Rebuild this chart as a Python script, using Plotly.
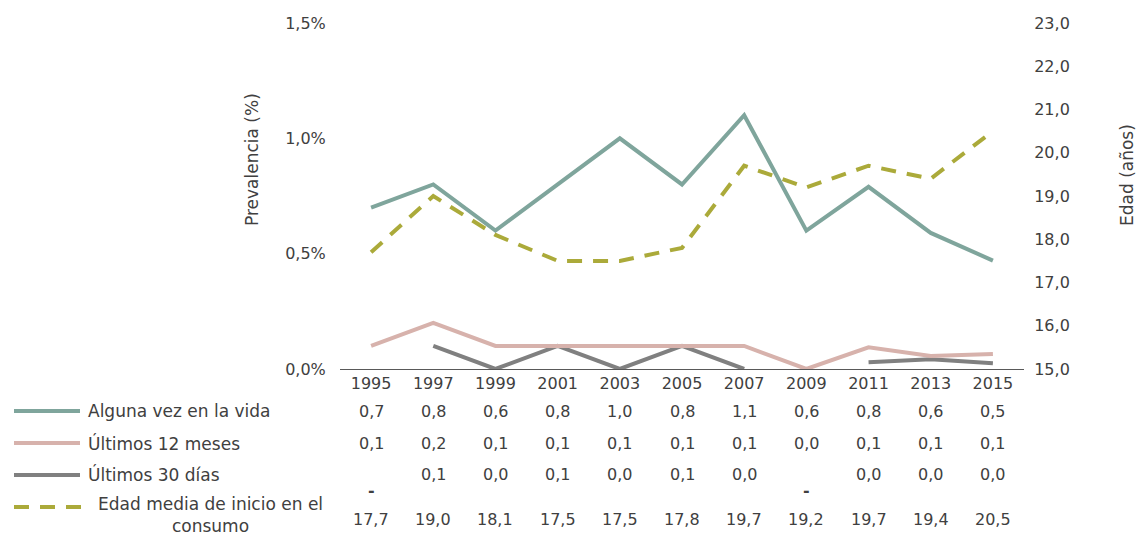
import plotly.graph_objects as go

# Survey years and series
years = ["1995", "1997", "1999", "2001", "2003", "2005", "2007", "2009", "2011", "2013", "2015"]
alguna_vez = [0.70, 0.80, 0.60, 0.80, 1.00, 0.80, 1.10, 0.60, 0.79, 0.59, 0.47]
ultimos_12 = [0.10, 0.20, 0.10, 0.10, 0.10, 0.10, 0.10, 0.00, 0.094, 0.056, 0.065]
ultimos_30 = [None, 0.10, 0.00, 0.10, 0.00, 0.10, 0.00, None, 0.029, 0.042, 0.025]
edad_media = [17.7, 19.0, 18.1, 17.5, 17.5, 17.8, 19.7, 19.2, 19.7, 19.4, 20.5]

left_ticks = [0, 0.5, 1.0, 1.5]
right_ticks = [15, 16, 17, 18, 19, 20, 21, 22, 23]

C_ALG = "#7FA59C"
C_12 = "#D7B2AC"
C_30 = "#808080"
C_EDAD = "#ABAA3A"
TXT = "#404040"
FONT = "DejaVu Sans"
NUM_SIZE = 16
LBL_SIZE = 17

W, H = 1140, 537
ML, MR, MT, MB = 340, 116, 23, 168
PW, PH = W - ML - MR, H - MT - MB


def px_x(x):
    return (x - ML) / PW


def px_y(y):
    return (H - MB - y) / PH


def fmt(v):
    return f"{v:.1f}".replace(".", ",")


fig = go.Figure()
fig.add_trace(go.Scatter(x=years, y=edad_media, mode="lines", yaxis="y2",
                         line=dict(color=C_EDAD, width=4, dash="15px,11px"),
                         name="Edad media de inicio en el consumo"))
fig.add_trace(go.Scatter(x=years, y=ultimos_30, mode="lines",
                         line=dict(color=C_30, width=4), name="Últimos 30 días"))
fig.add_trace(go.Scatter(x=years, y=ultimos_12, mode="lines",
                         line=dict(color=C_12, width=4), name="Últimos 12 meses"))
fig.add_trace(go.Scatter(x=years, y=alguna_vez, mode="lines",
                         line=dict(color=C_ALG, width=4), name="Alguna vez en la vida"))

annotations = []
shapes = []

# Data table below the chart
rows = [
    ("Alguna vez en la vida", alguna_vez, C_ALG, "solid", 411, 411),
    ("Últimos 12 meses", ultimos_12, C_12, "solid", 443, 443),
    ("Últimos 30 días", ultimos_30, C_30, "solid", 475, 475),
    ("Edad media de inicio en el<br>consumo", edad_media, C_EDAD, "dash", 507, 519),
]
for label, vals, color, style, ly, vy in rows:
    if style == "solid":
        shapes.append(dict(type="line", xref="paper", yref="paper",
                           x0=px_x(14), x1=px_x(80), y0=px_y(ly), y1=px_y(ly),
                           line=dict(color=color, width=4)))
        annotations.append(dict(text=label, xref="paper", yref="paper",
                                x=px_x(86), y=px_y(ly), xanchor="left", yanchor="middle",
                                showarrow=False, font=dict(size=LBL_SIZE, color=TXT, family=FONT)))
    else:
        shapes.append(dict(type="line", xref="paper", yref="paper",
                           x0=px_x(14), x1=px_x(82), y0=px_y(ly), y1=px_y(ly),
                           line=dict(color=color, width=4, dash="15px,11px")))
        annotations.append(dict(text=label, xref="paper", yref="paper",
                                x=px_x(210), y=px_y(ly + 8), xanchor="center", yanchor="middle",
                                align="center", showarrow=False,
                                font=dict(size=LBL_SIZE, color=TXT, family=FONT)))
    for i, v in enumerate(vals):
        if v is None:
            annotations.append(dict(text="<b>-</b>", xref="x", yref="paper", x=i, y=px_y(490),
                                    xanchor="center", yanchor="middle", showarrow=False,
                                    font=dict(size=NUM_SIZE, color=TXT, family=FONT)))
        else:
            annotations.append(dict(text=fmt(v), xref="x", yref="paper", x=i, y=px_y(vy),
                                    xanchor="center", yanchor="middle", showarrow=False,
                                    font=dict(size=NUM_SIZE, color=TXT, family=FONT)))

# Axis titles
annotations.append(dict(text="Prevalencia (%)", xref="paper", yref="paper",
                        x=px_x(252), y=px_y(160), textangle=-90, xanchor="center",
                        yanchor="middle", showarrow=False,
                        font=dict(size=LBL_SIZE, color=TXT, family=FONT)))
annotations.append(dict(text="Edad (años)", xref="paper", yref="paper",
                        x=px_x(1127), y=px_y(175), textangle=-90, xanchor="center",
                        yanchor="middle", showarrow=False,
                        font=dict(size=LBL_SIZE, color=TXT, family=FONT)))

fig.update_layout(
    width=W, height=H,
    margin=dict(l=ML, r=MR, t=MT, b=MB),
    paper_bgcolor="white", plot_bgcolor="white",
    showlegend=False,
    font=dict(family=FONT, color=TXT, size=NUM_SIZE),
    xaxis=dict(type="category", range=[-0.5, len(years) - 0.5],
               showgrid=False, zeroline=False, showline=True,
               linecolor="#595959", linewidth=1, ticks="",
               tickfont=dict(size=NUM_SIZE, color=TXT, family=FONT)),
    yaxis=dict(range=[0, 1.5], tickvals=left_ticks,
               ticktext=[fmt(v) + "%" for v in left_ticks],
               showgrid=False, zeroline=False, showline=False,
               ticks="outside", ticklen=10, tickcolor="rgba(0,0,0,0)",
               tickfont=dict(size=NUM_SIZE, color=TXT, family=FONT)),
    yaxis2=dict(range=[15, 23], tickvals=right_ticks,
                ticktext=[fmt(v) for v in right_ticks],
                overlaying="y", side="right",
                showgrid=False, zeroline=False, showline=False,
                ticks="outside", ticklen=6, tickcolor="rgba(0,0,0,0)",
                tickfont=dict(size=NUM_SIZE, color=TXT, family=FONT)),
    annotations=annotations,
    shapes=shapes,
)

fig.write_html("out.html")
